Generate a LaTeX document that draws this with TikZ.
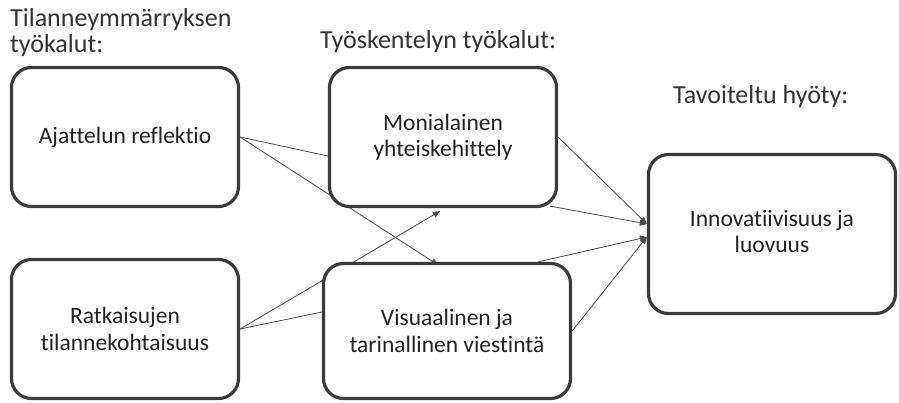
\documentclass[tikz,border=0pt]{standalone}
\usepackage{fontspec}
\setmainfont{Carlito}[Ligatures=CommonOff]
\usetikzlibrary{arrows.meta,backgrounds}
\definecolor{boxgray}{HTML}{3A3A3A}
\definecolor{linegray}{HTML}{4A4A4A}
\definecolor{txt}{HTML}{222222}
\definecolor{headtxt}{HTML}{333333}
\begin{document}
\begin{tikzpicture}[x=1pt,y=-1pt,
 box/.style={draw=boxgray, line width=3.2pt, rounded corners=20pt, fill=white, align=center,
   font=\fontsize{23.5}{26.5}\selectfont, text=txt, inner sep=0pt},
 conn/.style={draw=linegray, line width=0.8pt},
 arr/.style={conn, -{Triangle[length=7pt,width=6pt]}},
 head/.style={font=\fontsize{26}{26}\selectfont, text=headtxt, align=left, inner sep=0pt}]
\useasboundingbox (0,0) rectangle (899,402);

\node[head, anchor=west] (h1) at (10,33) {Tilanneymmärryksen\\työkalut:};
\node[head, anchor=west] (h2) at (320,42) {Työskentelyn työkalut:};
\node[head, anchor=west] (h3) at (673,97) {Tavoiteltu hyöty:};

\node[box, minimum width=227pt, minimum height=139pt] (A) at (125,137) {Ajattelun reflektio};
\node[box, minimum width=227pt, minimum height=139pt] (B) at (125,329) {Ratkaisujen\\tilannekohtaisuus};
\node[box, minimum width=227pt, minimum height=139pt] (C) at (443,137) {Monialainen\\yhteiskehittely};
\node[box, minimum width=247pt, minimum height=135pt] (D) at (447,331) {Visuaalinen ja\\tarinallinen viestintä};
\node[box, minimum width=247pt, minimum height=159pt] (E) at (772,234)
  {\raisebox{9pt}{\renewcommand{\arraystretch}{1}\begin{tabular}{@{}c@{}}Innovatiivisuus ja\\luovuus\end{tabular}}};

\coordinate (e1) at ([yshift=10pt]E.west);
\coordinate (e2) at ([yshift=-3pt]E.west);
\coordinate (cse) at ([xshift=-8pt,yshift=2pt]C.south east);
\coordinate (dne) at ([xshift=-34pt]D.north east);

\begin{scope}[on background layer]
\draw[conn] (A.east) -- ([yshift=-19pt]C.west);
\draw[arr] (A.east) -- ([xshift=-9pt,yshift=-3pt]D.north);
\draw[arr] (B.east) -- ([xshift=-3pt,yshift=-3pt]C.south);
\draw[conn] (B.east) -- ([yshift=19pt]D.west);
\draw[arr] (C.east) -- (e1);
\draw[arr] (cse) -- (e1);
\draw[arr] (dne) -- (e2);
\draw[arr] (D.east) -- (e2);
\end{scope}
\end{tikzpicture}
\end{document}
